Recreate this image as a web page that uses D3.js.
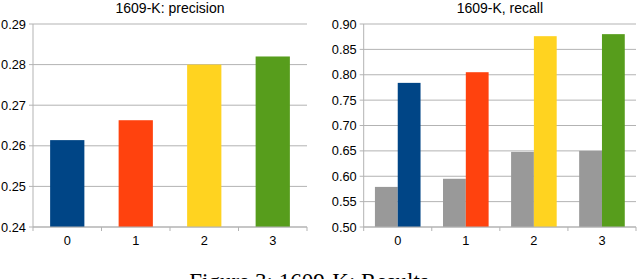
<!DOCTYPE html>
<html>
<head>
<meta charset="utf-8">
<script src="https://cdn.jsdelivr.net/npm/d3@7"></script>
<style>
  body { margin: 0; background: #fff; }
  text { font-family: "Liberation Sans", Arial, sans-serif; fill: #000; }
  text.caption { font-family: "Liberation Serif", "Times New Roman", serif; }
</style>
</head>
<body>
<div id="container"></div>
<script>
const width = 640;
const height = 279;

// data
const categories = ["0", "1", "2", "3"];
const precision = [0.2614, 0.2663, 0.2800, 0.2820];
const recallBase = [0.579, 0.595, 0.648, 0.650];
const recall = [0.784, 0.805, 0.876, 0.880];
const precisionTicks = [0.24, 0.25, 0.26, 0.27, 0.28, 0.29];
const recallTicks = [0.50, 0.55, 0.60, 0.65, 0.70, 0.75, 0.80, 0.85, 0.90];
const barColors = ["#004586", "#ff420e", "#ffd320", "#579d1c"];
const baseColor = "#999999";

const svg = d3.select("#container")
              .append("svg")
              .attr("width", width)
              .attr("height", height);
svg.append("rect").attr("width", width).attr("height", height).attr("fill", "#fff");

const plotTop = 24, plotBottom = 227;

function panel(left, right, title, ticks, fmt) {
  const g = svg.append("g");
  const x = d3.scaleBand().domain(categories).range([left, right]).padding(0);
  const y = d3.scaleLinear().domain([ticks[0], ticks[ticks.length - 1]]).range([plotBottom, plotTop]);

  // gridlines
  g.selectAll(".grid")
   .data(ticks)
   .enter()
   .append("line")
   .attr("x1", left - 4)
   .attr("x2", right)
   .attr("y1", d => y(d))
   .attr("y2", d => y(d))
   .attr("stroke", "#b3b3b3")
   .attr("stroke-width", 1);
  // left axis
  g.append("line")
   .attr("x1", left).attr("x2", left)
   .attr("y1", plotTop).attr("y2", plotBottom)
   .attr("stroke", "#b3b3b3");
  g.selectAll(".ylab")
   .data(ticks)
   .enter()
   .append("text")
   .attr("x", left - 7)
   .attr("y", d => y(d))
   .attr("dy", "0.36em")
   .attr("text-anchor", "end")
   .style("font-size", "12.8px")
   .text(d => fmt(d));
  // bottom tick marks at band edges
  const edges = categories.map(c => x(c)).concat([right]);
  g.selectAll(".xtick")
   .data(edges)
   .enter()
   .append("line")
   .attr("x1", d => d).attr("x2", d => d)
   .attr("y1", plotBottom).attr("y2", plotBottom + 4)
   .attr("stroke", "#b3b3b3");
  g.selectAll(".xlab")
   .data(categories)
   .enter()
   .append("text")
   .attr("x", c => x(c) + x.bandwidth() / 2)
   .attr("y", 245)
   .attr("text-anchor", "middle")
   .style("font-size", "12.8px")
   .text(c => c);
  g.append("text")
   .attr("x", (left + right) / 2)
   .attr("y", 13)
   .attr("text-anchor", "middle")
   .style("font-size", "14px")
   .text(title);
  return { g, x, y };
}

// left: precision
const p1 = panel(33, 307, "1609-K: precision", precisionTicks, d3.format(".2f"));
const bw1 = p1.x.bandwidth();
p1.g.selectAll(".bar")
    .data(precision)
    .enter()
    .append("rect")
    .attr("x", (d, i) => p1.x(categories[i]) + bw1 * 0.25)
    .attr("width", bw1 * 0.5)
    .attr("y", d => p1.y(d))
    .attr("height", d => plotBottom - p1.y(d))
    .attr("fill", (d, i) => barColors[i]);
p1.g.append("line")
    .attr("x1", 33).attr("x2", 307)
    .attr("y1", plotBottom).attr("y2", plotBottom)
    .attr("stroke", "#b3b3b3");

// right: recall
const p2 = panel(363.7, 636, "1609-K, recall", recallTicks, d3.format(".2f"));
const bw2 = p2.x.bandwidth();
const sub = d3.scaleBand().domain(["base", "model"]).range([bw2 * 0.165, bw2 * 0.835]).padding(0);
p2.g.selectAll(".base")
    .data(recallBase)
    .enter()
    .append("rect")
    .attr("x", (d, i) => p2.x(categories[i]) + sub("base"))
    .attr("width", sub.bandwidth())
    .attr("y", d => p2.y(d))
    .attr("height", d => plotBottom - p2.y(d))
    .attr("fill", baseColor);
p2.g.selectAll(".model")
    .data(recall)
    .enter()
    .append("rect")
    .attr("x", (d, i) => p2.x(categories[i]) + sub("model"))
    .attr("width", sub.bandwidth())
    .attr("y", d => p2.y(d))
    .attr("height", d => plotBottom - p2.y(d))
    .attr("fill", (d, i) => barColors[i]);
p2.g.append("line")
    .attr("x1", 363.7).attr("x2", 636)
    .attr("y1", plotBottom).attr("y2", plotBottom)
    .attr("stroke", "#b3b3b3");

// caption, cut off at the bottom edge as in the source
svg.append("text")
   .attr("class", "caption")
   .attr("x", 309)
   .attr("y", 289)
   .attr("text-anchor", "middle")
   .style("font-size", "23px")
   .text("Figure 3: 1609-K: Results");
</script>
</body>
</html>
